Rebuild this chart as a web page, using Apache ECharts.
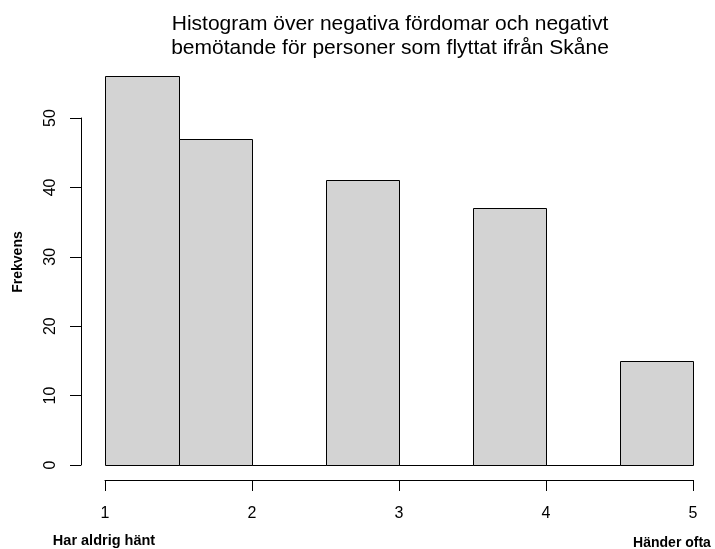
<!DOCTYPE html>
<html>
<head>
<meta charset="utf-8">
<script src="https://cdn.jsdelivr.net/npm/echarts@6/dist/echarts.min.js"></script>
<style>
  html, body { margin: 0; padding: 0; background: #fff; }
  #chart { width: 715px; height: 549px; }
</style>
</head>
<body>
<div id="chart"></div>
<script>
// Histogram bins (left/right edges) and frequencies
const binStarts = [1, 1.5, 2, 2.5, 3, 3.5, 4, 4.5];
const binEnds   = [1.5, 2, 2.5, 3, 3.5, 4, 4.5, 5];
const counts    = [56, 47, 0, 41, 0, 37, 0, 15];

const xTicks = [1, 2, 3, 4, 5];
const yTicks = [0, 10, 20, 30, 40, 50];

const titleLines = [
  'Histogram över negativa fördomar och negativt',
  'bemötande för personer som flyttat ifrån Skåne'
];
const yTitle = 'Frekvens';
const lowLabel = 'Har aldrig hänt';
const highLabel = 'Händer ofta';

const FONT = '"Liberation Sans", Arial, Helvetica, sans-serif';

const binData = binStarts.map((s, i) => [s, binEnds[i], counts[i]]);

const chart = echarts.init(document.getElementById('chart'));

chart.setOption({
  animation: false,
  backgroundColor: '#ffffff',
  title: {
    text: titleLines.join('\n'),
    left: 385,
    textAlign: 'center',
    top: 7,
    textStyle: {
      fontFamily: FONT,
      fontSize: 21,
      fontWeight: 'normal',
      color: '#000',
      lineHeight: 24
    }
  },
  grid: [
    // bars
    { left: 105, right: 22, top: 465 - 56 * 6.94, bottom: 84 },
    // visible y axis, spanning 0..50 only
    { left: 81, right: 22, top: 118, bottom: 84 }
  ],
  xAxis: [
    {
      gridIndex: 0,
      type: 'value',
      min: xTicks[0],
      max: xTicks[xTicks.length - 1],
      interval: 1,
      offset: 15,
      axisLine: { show: true, onZero: false, lineStyle: { color: '#000', width: 1 } },
      axisTick: { show: true, inside: false, length: 11, lineStyle: { color: '#000' } },
      axisLabel: {
        margin: 26,
        fontFamily: FONT,
        fontSize: 16,
        color: '#000',
        formatter: v => String(v)
      },
      splitLine: { show: false }
    },
    {
      gridIndex: 1,
      type: 'value',
      min: 0, max: 1,
      show: false
    }
  ],
  yAxis: [
    {
      gridIndex: 0,
      type: 'value',
      min: 0,
      max: 56,
      show: false
    },
    {
      gridIndex: 1,
      type: 'value',
      min: yTicks[0],
      max: yTicks[yTicks.length - 1],
      interval: 10,
      axisLine: { show: true, onZero: false, lineStyle: { color: '#000', width: 1 } },
      axisTick: { show: true, inside: false, length: 11, lineStyle: { color: '#000' } },
      axisLabel: {
        rotate: 90,
        margin: 22,
        fontFamily: FONT,
        fontSize: 16,
        color: '#000'
      },
      splitLine: { show: false }
    }
  ],
  series: [
    {
      type: 'custom',
      xAxisIndex: 0,
      yAxisIndex: 0,
      data: binData,
      encode: { x: [0, 1], y: 2 },
      renderItem: function (params, api) {
        const p0 = api.coord([api.value(0), api.value(2)]);
        const p1 = api.coord([api.value(1), 0]);
        return {
          type: 'rect',
          shape: {
            x: Math.round(p0[0]) + 0.5,
            y: Math.round(p0[1]) + 0.5,
            width: Math.round(p1[0]) - Math.round(p0[0]),
            height: Math.round(p1[1]) - Math.round(p0[1])
          },
          style: { fill: '#d3d3d3', stroke: '#000', lineWidth: 1 }
        };
      }
    }
  ],
  graphic: [
    {
      type: 'text',
      x: 18, y: 262,
      rotation: Math.PI / 2,
      style: {
        text: yTitle,
        font: 'bold 14px ' + FONT,
        fill: '#000',
        align: 'center',
        verticalAlign: 'middle'
      }
    },
    {
      type: 'text',
      x: 104, y: 541,
      style: {
        text: lowLabel,
        font: 'bold 14.5px ' + FONT,
        fill: '#000',
        align: 'center',
        verticalAlign: 'middle'
      }
    },
    {
      type: 'text',
      x: 672, y: 543,
      style: {
        text: highLabel,
        font: 'bold 14px ' + FONT,
        fill: '#000',
        align: 'center',
        verticalAlign: 'middle'
      }
    }
  ]
});
</script>
</body>
</html>
